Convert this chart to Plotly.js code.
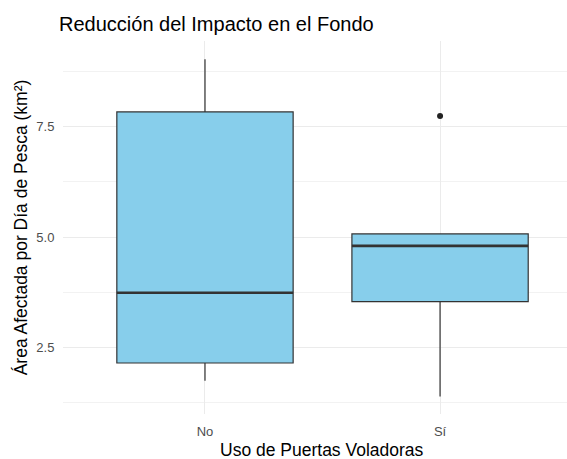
<!DOCTYPE html>
<html>
<head>
<meta charset="utf-8">
<script src="https://cdn.plot.ly/plotly-3.0.1.min.js"></script>
<style>html,body{margin:0;padding:0;background:#fff;}#chart{width:567px;height:459px;}</style>
</head>
<body>
<div id="chart"></div>
<script>
const categories = ["No", "Sí"];
const q1Values = [2.15, 3.54];
const medianValues = [3.74, 4.80];
const q3Values = [7.83, 5.07];
const lowerWhisker = [1.75, 1.39];
const upperWhisker = [9.02, 5.07];
const outlierCategory = [1];
const outlierValues = [7.74];

const positions = categories.map((c, i) => i);
const boxWidth = 0.75;
const lineColor = "#333333";
const fillColor = "#87CEEB";

const traces = [{
  type: "box",
  x: positions,
  q1: q1Values,
  median: medianValues,
  q3: q3Values,
  lowerfence: lowerWhisker,
  upperfence: upperWhisker,
  width: boxWidth,
  whiskerwidth: 0,
  boxpoints: false,
  fillcolor: fillColor,
  line: {color: lineColor, width: 1.2},
  hoverinfo: "skip",
  showlegend: false
}];

positions.forEach((p, i) => {
  traces.push({
    type: "scatter",
    mode: "lines",
    x: [p - boxWidth / 2, p + boxWidth / 2],
    y: [medianValues[i], medianValues[i]],
    line: {color: lineColor, width: 2.6},
    hoverinfo: "skip",
    showlegend: false
  });
});

traces.push({
  type: "scatter",
  mode: "markers",
  x: outlierCategory,
  y: outlierValues,
  marker: {color: "#222222", size: 6},
  hoverinfo: "skip",
  showlegend: false
});

const layout = {
  width: 567,
  height: 459,
  margin: {l: 63, r: 0, t: 41, b: 45},
  paper_bgcolor: "#ffffff",
  plot_bgcolor: "#ffffff",
  font: {family: "Liberation Sans, Arial, sans-serif"},
  title: {
    text: "Reducción del Impacto en el Fondo",
    font: {size: 20, color: "#000000"},
    xref: "container", x: 59 / 567, xanchor: "left",
    yref: "container", y: 1 - 24 / 459, yanchor: "middle"
  },
  xaxis: {
    range: [-0.604, 1.540],
    tickvals: positions,
    ticktext: categories,
    showgrid: true,
    gridcolor: "#EBEBEB",
    gridwidth: 1,
    zeroline: false,
    showline: false,
    ticks: "outside",
    ticklen: 5,
    tickcolor: "rgba(0,0,0,0)",
    tickfont: {size: 13, color: "#4D4D4D"}
  },
  yaxis: {
    range: [0.996, 9.434],
    tick0: 0,
    dtick: 2.5,
    tickformat: ".1f",
    showgrid: true,
    gridcolor: "#EBEBEB",
    gridwidth: 1,
    minor: {dtick: 1.25, tick0: 0, showgrid: true, gridcolor: "#F2F2F2", gridwidth: 1},
    zeroline: false,
    showline: false,
    ticks: "outside",
    ticklen: 5,
    tickcolor: "rgba(0,0,0,0)",
    tickfont: {size: 13, color: "#4D4D4D"},
    title: {text: "Área Afectada por Día de Pesca (km²)", font: {size: 17.5, color: "#000000"}, standoff: 4}
  },
  annotations: [{
    text: "Uso de Puertas Voladoras",
    xref: "paper", yref: "paper",
    x: (321.5 - 63) / 504, y: (414 - 450) / 373,
    xanchor: "center", yanchor: "middle",
    showarrow: false,
    font: {size: 17.5, color: "#000000"}
  }]
};

Plotly.newPlot("chart", traces, layout, {staticPlot: true, displayModeBar: false});
</script>
</body>
</html>
